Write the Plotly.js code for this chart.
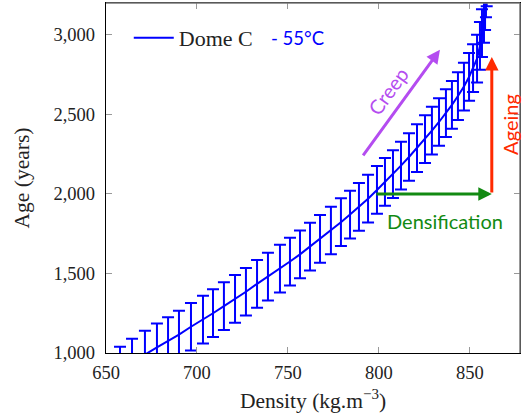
<!DOCTYPE html>
<html><head><meta charset="utf-8">
<script src="https://cdn.plot.ly/plotly-3.0.1.min.js"></script>
<style>html,body{margin:0;padding:0;background:#fff}#chart{width:522px;height:417px}</style>
</head><body><div id="chart"></div>
<script>
// Density (kg.m^-3) at each error-bar point
const density = [657.7, 664.3, 671.4, 678.0, 684.1, 690.1, 696.7, 703.3, 708.8, 714.8,
  720.9, 726.9, 733.0, 739.0, 745.6, 751.1, 756.6, 762.1, 767.6, 773.6,
  779.1, 784.1, 789.0, 794.0, 798.9, 803.3, 807.7, 812.1, 816.5, 820.9,
  825.3, 829.1, 833.0, 836.8, 840.1, 843.4, 846.7, 849.5, 851.7, 853.9,
  855.5, 856.6, 857.7, 858.3, 858.8, 859.2];
// Age (years)
const age = [890, 940, 990, 1035, 1075, 1115, 1165, 1210, 1250, 1295,
  1340, 1385, 1435, 1480, 1530, 1575, 1620, 1668, 1718, 1770,
  1822, 1870, 1918, 1970, 2025, 2075, 2125, 2178, 2232, 2288,
  2345, 2398, 2452, 2508, 2560, 2615, 2675, 2735, 2790, 2850,
  2930, 3010, 3100, 3180, 3260, 3330];
// Age uncertainty (years, +/-)
const ageErr = [150, 150, 150, 150, 150, 150, 150, 150, 150, 150,
  150, 150, 150, 150, 150, 150, 150, 150, 150, 150,
  150, 150, 150, 150, 150, 150, 150, 150, 150, 150,
  150, 150, 150, 150, 150, 150, 150, 150, 150, 150,
  150, 150, 150, 150, 150, 150];
const seriesName = 'Dome C';
const tempLabel = '- 55°C';
const xTicks = [650, 700, 750, 800, 850];
const yTicks = [1000, 1500, 2000, 2500, 3000];

const serif = 'Liberation Serif, DejaVu Serif, serif';
const sans = 'Lato, Open Sans, sans-serif';

const trace = {
  x: density, y: age, type: 'scatter', mode: 'lines', name: seriesName,
  line: {color: '#0000ff', width: 2},
  error_y: {type: 'data', array: ageErr, visible: true, color: '#0000ff', thickness: 2, width: 6}
};

const axisCommon = {
  showgrid: false, zeroline: false, showline: true, linecolor: '#000', linewidth: 1.2,
  mirror: 'ticks', ticks: 'inside', ticklen: 6, tickcolor: '#999', tickwidth: 1,
  tickfont: {family: serif, size: 18.5, color: '#222'}
};

const layout = {
  width: 522, height: 417,
  margin: {l: 106, r: 2, t: 3, b: 64},
  paper_bgcolor: '#fff', plot_bgcolor: '#fff',
  showlegend: true,
  legend: {x: 0.055, y: 0.9, xanchor: 'left', yanchor: 'middle', bgcolor: 'rgba(0,0,0,0)',
    borderwidth: 0, itemwidth: 40, font: {family: serif, size: 22, color: '#222'}},
  xaxis: Object.assign({}, axisCommon, {
    range: [650, 877.5], tickvals: xTicks, ticktext: xTicks.map(String), ticklabelstandoff: 3,
    title: {text: 'Density (kg.m<sup>−3</sup>)', font: {family: serif, size: 21.5, color: '#222'}, standoff: 10}
  }),
  yaxis: Object.assign({}, axisCommon, {
    range: [1000, 3200], tickvals: yTicks, ticktext: yTicks.map(v => v.toLocaleString('en-US')), ticklabelstandoff: 6,
    title: {text: 'Age (years)', font: {family: serif, size: 21.5, color: '#222'}, standoff: 18}
  }),
  shapes: [
    {type: 'line', xref: 'paper', yref: 'paper', x0: 0, x1: 1, y0: 1, y1: 1, line: {color: '#777', width: 1.5}, layer: 'above'},
    {type: 'line', xref: 'paper', yref: 'paper', x0: 1, x1: 1, y0: 0, y1: 1, line: {color: '#777', width: 1.5}, layer: 'above'}
  ],
  annotations: [
    {xref: 'paper', yref: 'paper', x: 0.4626, y: 0.9, xanchor: 'center', yanchor: 'middle', showarrow: false,
     text: tempLabel, font: {family: sans, size: 18.5, color: '#0000ff'}},
    // Creep arrow
    {xref: 'x', yref: 'y', axref: 'x', ayref: 'y', x: 833.5, y: 2906, ax: 790.7, ay: 2233, text: '',
     showarrow: true, arrowhead: 2, arrowsize: 0.9, arrowwidth: 3, arrowcolor: '#b44cf0', standoff: 0, startstandoff: 0},
    {xref: 'x', yref: 'y', x: 805, y: 2645, text: 'Creep', showarrow: false, textangle: -54,
     font: {family: sans, size: 20, color: '#b44cf0'}},
    // Densification arrow
    {xref: 'x', yref: 'y', axref: 'x', ayref: 'y', x: 862, y: 2000, ax: 797.8, ay: 2000, text: '',
     showarrow: true, arrowhead: 2, arrowsize: 0.9, arrowwidth: 3, arrowcolor: '#128a12', standoff: 0, startstandoff: 0},
    {xref: 'x', yref: 'y', x: 836.3, y: 1830, text: 'Densification', showarrow: false,
     font: {family: sans, size: 20, color: '#128a12'}},
    // Ageing arrow
    {xref: 'x', yref: 'y', axref: 'x', ayref: 'y', x: 862, y: 2860, ax: 862, ay: 2000, text: '',
     showarrow: true, arrowhead: 2, arrowsize: 0.9, arrowwidth: 3, arrowcolor: '#ff2a00', standoff: 0, startstandoff: 0},
    {xref: 'x', yref: 'y', x: 872, y: 2440, text: 'Ageing', showarrow: false, textangle: -90,
     font: {family: sans, size: 20, color: '#ff2a00'}}
  ]
};

Plotly.newPlot('chart', [trace], layout, {staticPlot: true, displayModeBar: false});
</script>
</body></html>
